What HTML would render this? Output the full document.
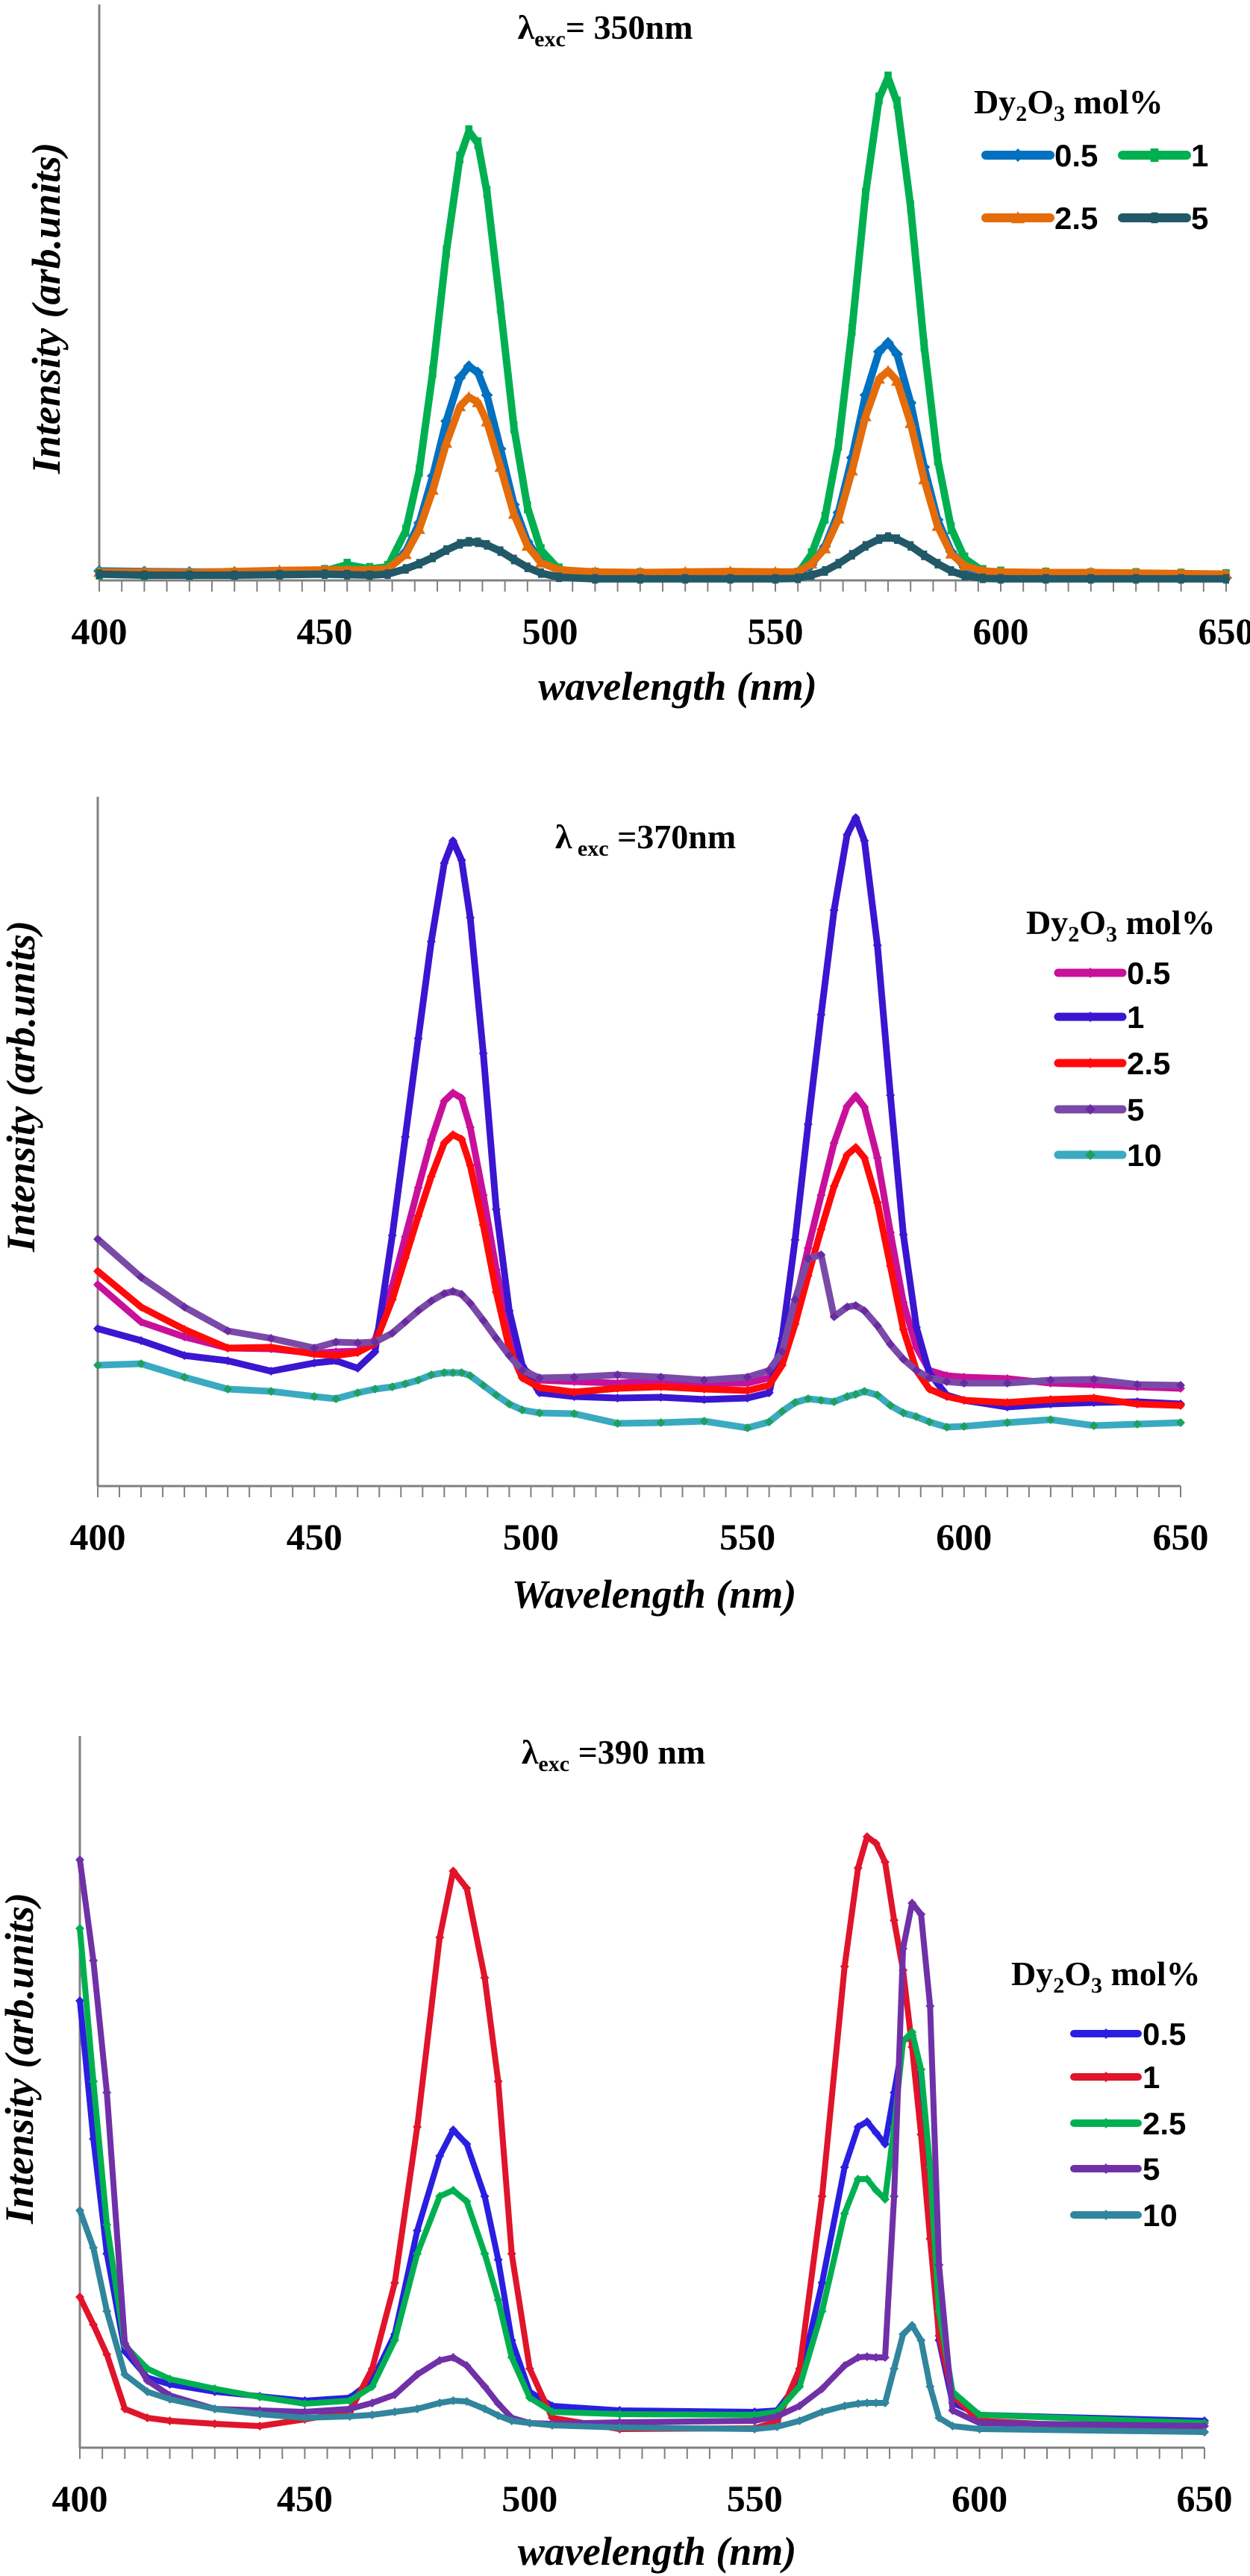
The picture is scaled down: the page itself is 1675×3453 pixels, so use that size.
<!DOCTYPE html>
<html><head><meta charset="utf-8"><style>
html,body{margin:0;padding:0;background:#fff}
svg{display:block}
.tk{font-family:"Liberation Serif",serif;font-weight:bold;font-size:50px}
.ax{font-family:"Liberation Serif",serif;font-weight:bold;font-style:italic;font-size:54px}
.tt{font-family:"Liberation Serif",serif;font-weight:bold;font-size:46px}
.lg{font-family:"Liberation Sans",sans-serif;font-weight:bold;font-size:42px}
</style></head><body>
<svg id="fig" width="1675" height="3453" viewBox="0 0 1675 3453" xmlns="http://www.w3.org/2000/svg"></svg>
<script>
// ---------- Chart 1 data (λexc = 350 nm) ----------
const wl1 = [400,410,420,430,440,450,455,460,464,468,471,474,477,480,482,484,486,489,492,495,498,502,510,520,530,540,550,555,558,561,564,567,570,573,575,577,580,583,586,589,592,596,600,610,620,630,640,650];
const c1_s05 = [1.8,1.7,1.6,1.6,1.7,1.8,1.8,1.8,2.1,5.5,11,20,30.5,38.8,41,39.8,35.5,25.2,14.5,7.4,3.6,1.9,1.3,1.2,1.2,1.3,1.2,1.2,3,6.5,13,23.5,35.5,43.8,45.5,43.3,34,21.7,11.6,5.5,2.5,1.4,1.2,1.0,0.9,0.8,0.6,0.5];
const c1_s1 = [1.3,1.2,1.2,1.3,1.4,1.8,3,2.2,2.6,9.5,21,40,63,81,86,83.7,74.4,52.3,29.3,14,5.8,2.1,1.3,1.2,1.2,1.3,1.2,1.3,5,12,26,48,74,92.3,96.3,91.5,71.6,45,23.2,10,4.2,1.8,1.5,1.3,1.2,1.2,1.1,1.0];
const c1_s25 = [1.6,1.6,1.5,1.7,1.9,2.0,2.0,2.0,2.2,5,9.8,17.3,26.3,33.3,35.1,34.1,30.4,21.7,12.7,6.6,3.4,2.0,1.6,1.5,1.6,1.7,1.6,1.6,3.2,6.1,11.8,21,31.4,38.6,40.1,38.2,30.1,19.3,10.4,5.1,2.8,1.8,1.6,1.5,1.5,1.4,1.3,1.2];
const c1_s5 = [1.2,1.0,1.0,1.0,1.1,1.2,1.1,1.0,1.2,2.2,3.2,4.4,5.8,7.0,7.4,7.3,6.8,5.6,4.0,2.5,1.4,0.6,0.3,0.3,0.3,0.3,0.3,0.4,1.0,1.8,3.2,4.9,6.6,7.9,8.3,7.9,6.6,4.8,3.2,1.8,0.9,0.4,0.3,0.3,0.3,0.3,0.3,0.3];
// ---------- Chart 2 data (λexc = 370 nm) ----------
const wl2 = wl1;
const c2_s05 = [27,22,20,18.5,18.4,17.8,18,18.1,19.6,26.8,33.4,40,46.4,51.6,52.7,52,48.1,39,29,20.5,15.8,14.2,14.0,13.8,14.2,13.8,13.8,14.5,17.8,24.3,31.9,39,46,50.9,52.3,50.8,44,34,24.6,18.6,15.5,14.8,14.6,14.4,13.8,13.6,13.3,13.1];
const c2_s1 = [21.1,19.5,17.5,16.8,15.4,16.5,16.8,15.8,18,33.6,46.8,60,73,83.5,86.5,83.9,76.2,58,37.1,23.5,16.2,12.5,12.0,11.8,11.9,11.6,11.8,12.5,19.8,33,48.5,63.2,77.2,87.3,89.6,86.5,72.5,52.4,33.7,21.3,15.1,12.2,11.5,10.6,11.0,11.2,11.3,11.0];
const c2_s25 = [28.8,24,21,18.5,18.6,17.7,17.5,17.9,19.1,25,30.6,36.2,41.5,46,47.1,46.5,43,35,26,18.5,14.5,13.2,12.6,13.1,13.3,13.0,12.8,13.5,16.2,21.7,28.2,34.4,40.2,44.4,45.4,44,38,29.5,21,15.5,13,12,11.5,11.2,11.6,11.8,11.0,10.8];
const c2_s5 = [33.1,28,24,20.8,19.8,18.5,19.3,19.2,19.3,20.5,22,23.5,24.8,25.8,26.1,25.7,24.5,22.2,19.8,17.5,15.5,14.5,14.6,14.9,14.6,14.2,14.6,15.5,18,25,30.5,31.0,22.7,24.0,24.2,23.5,21.5,19,17,15.5,14.5,14,13.8,13.8,14.2,14.3,13.6,13.5];
const c2_s10 = [16.2,16.4,14.6,13,12.7,12.0,11.7,12.5,13,13.3,13.7,14.2,14.9,15.2,15.2,15.2,14.8,13.5,12.2,11.0,10.2,9.8,9.7,8.4,8.5,8.7,7.8,8.6,10,11.2,11.7,11.5,11.3,12,12.3,12.7,12.2,10.8,9.8,9.3,8.6,7.9,8.0,8.5,8.9,8.1,8.3,8.5];
// ---------- Chart 3 data (λexc = 390 nm) ----------
const wl3 = [400,403,406,410,415,420,430,440,450,460,465,470,475,480,483,486,490,493,496,500,505,520,550,555,560,565,570,573,575,577,579,581,583,585,587,589,591,594,600,650];
const c3_s05 = [59.9,41.4,26,12.9,9.4,8.5,7.5,6.9,6.3,6.7,9,15.2,29.1,39.1,42.6,40.7,33.7,25.2,14.4,7.5,5.6,5.0,4.8,5.0,9,22.1,37.6,43,43.7,42.2,40.7,47.6,54.5,55.3,49.1,33.7,14.4,6,4.4,3.6];
const c3_s1 = [20.2,16.5,12.5,5.2,4.0,3.6,3.2,2.9,3.8,4.8,10.6,22.1,43,68.4,77.3,75,63,49.1,26,10.6,4,2.5,2.6,3.5,10.6,33.7,64.5,77.7,81.9,81,78.5,70.7,64,53.7,42,28,15,7,3.6,2.1];
const c3_s25 = [69.6,49.1,29.9,13.7,10.6,9.2,7.9,6.8,5.9,6.3,8.2,14.4,26,33.7,34.5,33,26,19.8,12.1,6.7,4.8,4.5,4.4,4.8,8.2,18.3,31.4,36,36,34.5,33.3,43,54.5,55.7,50.7,37.6,18.3,7.5,4.4,3.3];
const c3_s5 = [78.8,65.3,47.6,14,9,7,5.2,5,4.8,5.2,6,7.1,9.8,11.7,12.1,11,8.2,5.9,4,3.3,3.2,3.4,3.6,4.2,5.6,7.9,11,12.1,12.2,12.1,12.1,33.7,66.9,73,71.5,59.2,24.5,5,3.3,2.9];
const c3_s10 = [31.8,26.8,18.3,9.8,7.5,6.5,5.2,4.5,4,4.2,4.4,4.8,5.2,6,6.3,6.2,5.2,4.3,3.6,3.3,3,2.7,2.5,2.8,3.6,4.8,5.6,5.9,6,6,6,10.6,15.2,16.4,14.4,8.2,4,2.9,2.5,2.1];
const xTicks = [400,450,500,550,600,650];
const legend1 = ["0.5","1","2.5","5"];
const legend2 = ["0.5","1","2.5","5","10"];

const NS="http://www.w3.org/2000/svg";
const svg=document.getElementById('fig');
function mk(tag,attrs,parent){const e=document.createElementNS(NS,tag);for(const k in attrs)e.setAttribute(k,attrs[k]);(parent||svg).appendChild(e);return e;}

function marker(g,type,x,y,s,color){
  let m;
  if(type==='diamond') m=mk('polygon',{points:`${x},${y-s} ${x+s},${y} ${x},${y+s} ${x-s},${y}`,fill:color},g);
  else if(type==='square') m=mk('rect',{x:x-s*0.6,y:y-s,width:s*1.2,height:s*2,fill:color},g);
  else if(type==='triangle') m=mk('polygon',{points:`${x},${y-s} ${x+s},${y+s*0.8} ${x-s},${y+s*0.8}`,fill:color},g);
  else if(type==='bar') m=mk('rect',{x:x-s*0.5,y:y-s*0.8,width:s,height:s*1.6,fill:color},g);
  
  
}

function chart(cfg){
  const g=mk('g',{});
  
  
  const xs=v=>cfg.x0+(v-400)/250*(cfg.x1-cfg.x0);
  const ys=v=>cfg.yb-v*cfg.unit;
  const ya=mk('line',{x1:cfg.x0,y1:cfg.yt,x2:cfg.x0,y2:cfg.yb,stroke:'#808080','stroke-width':3},g);
  
  const xa=mk('line',{x1:cfg.x0,y1:cfg.yb,x2:cfg.x1,y2:cfg.yb,stroke:'#808080','stroke-width':3},g);
  
  for(let t=400;t<=650;t+=5){
    const tl=mk('line',{x1:xs(t),y1:cfg.yb,x2:xs(t),y2:cfg.yb+15,stroke:'#808080','stroke-width':2},g);
    
  }
  xTicks.forEach(t=>{
    const tx=mk('text',{x:xs(t),y:cfg.yb+85,'text-anchor':'middle',class:'tk'},g);
    tx.textContent=t;
    
  });
  const xt=mk('text',{x:(cfg.x0+cfg.x1)/2+20,y:cfg.xty,'text-anchor':'middle',class:'ax'},g);
  xt.textContent=cfg.xtitle;
  
  const yt=mk('text',{x:0,y:0,'text-anchor':'middle',class:'ax',transform:`translate(${cfg.ytx},${cfg.yty}) rotate(-90)`},g);
  yt.textContent='Intensity (arb.units)';
  
  const tt=mk('text',{x:cfg.tx,y:cfg.ty,'text-anchor':'middle',class:'tt'},g);
  
  tt.innerHTML=cfg.titleHTML;
  cfg.series.forEach(s=>{
    const pts=cfg.wl.map((w,i)=>xs(w).toFixed(1)+','+ys(s.v[i]).toFixed(1)).join(' ');
    const pl=mk('polyline',{points:pts,fill:'none',stroke:s.c,'stroke-width':cfg.lw,'stroke-linejoin':'round','stroke-linecap':'round'},g);
    
    
    cfg.wl.forEach((w,i)=>marker(g,s.m,xs(w),ys(s.v[i]),cfg.ms,s.mc||s.c));
  });
  const lt=mk('text',{x:cfg.lgx,y:cfg.lgy,class:'tt'},g);
  
  lt.innerHTML='Dy<tspan font-size="30" dy="10">2</tspan><tspan dy="-10">O</tspan><tspan font-size="30" dy="10">3</tspan><tspan dy="-10"> mol%</tspan>';
  cfg.series.forEach((s,i)=>{
    const p=cfg.lpos[i];
    const lg=mk('g',{},g);
    
    mk('line',{x1:p[0],y1:p[1],x2:p[0]+86,y2:p[1],stroke:s.c,'stroke-width':cfg.lw+2,'stroke-linecap':'round'},lg);
    marker(lg,s.m,p[0]+43,p[1],cfg.ms+1,s.mc||s.c);
    const t=mk('text',{x:p[0]+92,y:p[1]+15,class:'lg'},lg);
    t.textContent=s.n;
  });
}

chart({name:'chart-350nm',wl:wl1,x0:133,x1:1643,yb:778,yt:6,unit:7,lw:10,ms:8,
  xtitle:'wavelength (nm)',xty:938,ytx:80,yty:413,tx:811,ty:52,
  titleHTML:'λ<tspan font-size="30" dy="10">exc</tspan><tspan dy="-10">= 350nm</tspan>',
  lgx:1305,lgy:152,
  lpos:[[1321,208],[1504,208],[1321,292],[1504,292]],
  series:[{n:legend1[0],v:c1_s05,c:'#0070c0',m:'diamond'},{n:legend1[1],v:c1_s1,c:'#00b050',m:'square'},
          {n:legend1[2],v:c1_s25,c:'#e46c0a',m:'triangle'},{n:legend1[3],v:c1_s5,c:'#215968',m:'bar'}]});

chart({name:'chart-370nm',wl:wl2,x0:131,x1:1582,yb:1992,yt:1068,unit:10,lw:9,ms:6,
  xtitle:'Wavelength (nm)',xty:2155,ytx:46,yty:1456,tx:865,ty:1137,
  titleHTML:'λ<tspan font-size="30" dy="10"> exc</tspan><tspan dy="-10"> =370nm</tspan>',
  lgx:1375,lgy:1252,
  lpos:[[1418,1304],[1418,1363],[1418,1425],[1418,1487],[1418,1548]],
  series:[{n:legend2[0],v:c2_s05,c:'#c8109a',m:'diamond'},{n:legend2[1],v:c2_s1,c:'#3a16d0',m:'diamond'},
          {n:legend2[2],v:c2_s25,c:'#ff0a0a',m:'diamond'},{n:legend2[3],v:c2_s5,c:'#7a4aa8',m:'diamond',mc:'#6a2aa0'},
          {n:legend2[4],v:c2_s10,c:'#3aaac0',m:'diamond',mc:'#20a060'}]});

chart({name:'chart-390nm',wl:wl3,x0:107,x1:1614,yb:3281,yt:2327,unit:10,lw:8,ms:6,
  xtitle:'wavelength (nm)',xty:3438,ytx:44,yty:2759,tx:822,ty:2364,
  titleHTML:'λ<tspan font-size="30" dy="10">exc</tspan><tspan dy="-10"> =390 nm</tspan>',
  lgx:1355,lgy:2661,
  lpos:[[1439,2726],[1439,2784],[1439,2846],[1439,2907],[1439,2969]],
  series:[{n:legend2[0],v:c3_s05,c:'#2a1ee0',m:'diamond'},{n:legend2[1],v:c3_s1,c:'#e0142a',m:'diamond'},
          {n:legend2[2],v:c3_s25,c:'#00b050',m:'diamond'},{n:legend2[3],v:c3_s5,c:'#7030a8',m:'diamond'},
          {n:legend2[4],v:c3_s10,c:'#31859c',m:'diamond'}]});
</script>
</body></html>
